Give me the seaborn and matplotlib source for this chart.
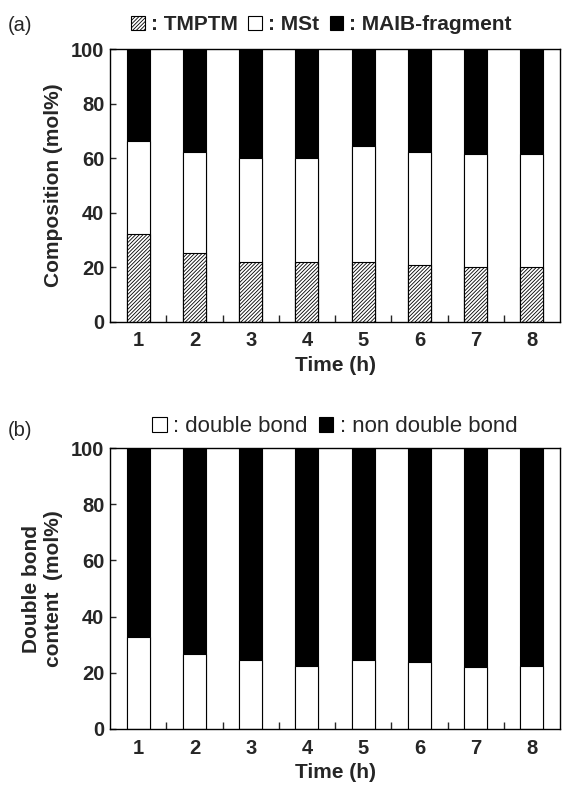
import matplotlib
matplotlib.use("Agg")
import matplotlib.pyplot as plt
import seaborn as sns
import numpy as np
from matplotlib.patches import Patch

# ── Data ──────────────────────────────────────────────────────────────────
times = ["1", "2", "3", "4", "5", "6", "7", "8"]

tmptm = [32.1, 25.2, 21.8, 21.8, 21.8, 21.0, 20.2, 20.2]
mst   = [34.3, 37.1, 38.4, 38.4, 42.7, 41.3, 41.3, 41.3]
maib  = [33.6, 37.7, 39.8, 39.8, 35.5, 37.7, 38.5, 38.5]

double_bond     = [32.9, 26.7, 24.6, 22.6, 24.6, 23.9, 21.9, 22.6]
non_double_bond = [67.1, 73.3, 75.4, 77.4, 75.4, 76.1, 78.1, 77.4]

# ── Style ─────────────────────────────────────────────────────────────────
sns.set_style("ticks")
plt.rcParams["font.family"] = ["Liberation Sans", "DejaVu Sans"]
plt.rcParams["hatch.linewidth"] = 0.6
plt.rcParams["axes.linewidth"] = 1.0

fig = plt.figure(figsize=(5.63, 7.87), dpi=100)
ax_a = fig.add_axes([0.1954, 0.5912, 0.7993, 0.3462])
ax_b = fig.add_axes([0.1954, 0.0737, 0.7993, 0.3570])

BAR_W = 0.41
EDGE = dict(edgecolor="black", linewidth=0.8)
TICK_FS = 14.5
LABEL_FS = 15


def stacked(ax, layers):
    """layers: list of (values, color, hatch), bottom first."""
    cum = np.cumsum([np.array(v) for v, _, _ in layers], axis=0)
    # draw from the top layer down so lower layers sit on top
    for i in range(len(layers) - 1, -1, -1):
        _, color, hatch = layers[i]
        sns.barplot(x=times, y=cum[i], ax=ax, color=color, saturation=1,
                    width=BAR_W, errorbar=None, hatch=hatch, **EDGE)


def style_axes(ax):
    ax.set_xlim(-0.5, 7.5)
    ax.set_ylim(0, 100)
    ax.set_yticks([0, 20, 40, 60, 80, 100])
    for s in ax.spines.values():
        s.set_visible(True)
        s.set_color("black")
    ax.set_xticks(np.arange(0.5, 7.5, 1.0), minor=True)
    ax.tick_params(axis="x", which="major", length=0, pad=7)
    ax.tick_params(axis="x", which="minor", direction="in", length=5, width=1)
    ax.tick_params(axis="y", direction="in", length=4, width=1, pad=4)
    for lbl in ax.get_xticklabels() + ax.get_yticklabels():
        lbl.set_fontsize(TICK_FS)
        lbl.set_fontweight("bold")
    ax.set_xlabel("Time (h)", fontsize=LABEL_FS, fontweight="bold", labelpad=4)


# ── (a) composition ───────────────────────────────────────────────────────
stacked(ax_a, [(tmptm, "white", "/////////"), (mst, "white", None), (maib, "black", None)])
style_axes(ax_a)
ax_a.set_ylabel("Composition (mol%)", fontsize=LABEL_FS, fontweight="bold", labelpad=6)

handles_a = [Patch(facecolor="white", hatch="/////////", **EDGE),
             Patch(facecolor="white", **EDGE),
             Patch(facecolor="black", **EDGE)]
ax_a.legend(handles_a, [": TMPTM", ": MSt", ": MAIB-fragment"],
            loc="lower center", bbox_to_anchor=(0.47, 1.01), ncol=3, frameon=False,
            handlelength=0.65, handleheight=0.65, handletextpad=0.3, columnspacing=0.5,
            prop=dict(size=15, weight="bold"), borderaxespad=0.2)
fig.text(0.014, 0.968, "(a)", fontsize=14.5, va="center", ha="left")

# ── (b) double bond content ───────────────────────────────────────────────
stacked(ax_b, [(double_bond, "white", None), (non_double_bond, "black", None)])
style_axes(ax_b)
ax_b.set_ylabel("Double bond\ncontent  (mol%)", fontsize=LABEL_FS, fontweight="bold",
                labelpad=6, linespacing=1.2)

handles_b = [Patch(facecolor="white", **EDGE), Patch(facecolor="black", **EDGE)]
ax_b.legend(handles_b, [": double bond", ": non double bond"],
            loc="lower center", bbox_to_anchor=(0.5, 1.0), ncol=2, frameon=False,
            handlelength=0.65, handleheight=0.65, handletextpad=0.3, columnspacing=0.5,
            prop=dict(size=16), borderaxespad=0.1)
fig.text(0.014, 0.453, "(b)", fontsize=14.5, va="center", ha="left")

fig.savefig("out.png", dpi=100)
